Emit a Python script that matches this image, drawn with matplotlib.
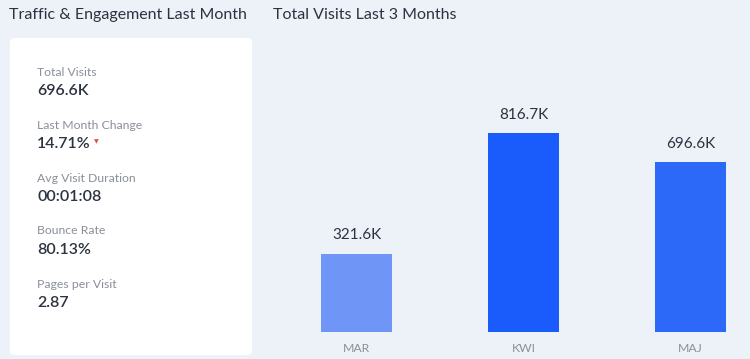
import matplotlib.pyplot as plt
from matplotlib.patches import FancyBboxPatch

# data
months = ["MAR", "KWI", "MAJ"]
visits = [321.6, 816.7, 696.6]  # thousands
bar_colors = ["#6f95f6", "#1a5bfc", "#2d69f9"]

stat_labels = ["Total Visits", "Last Month Change", "Avg Visit Duration", "Bounce Rate", "Pages per Visit"]
stat_values = ["696.6K", "14.71%", "00:01:08", "80.13%", "2.87"]

W, H = 750, 359
bg = "#edf1f8"
plt.rcParams["font.family"] = ["Lato", "DejaVu Sans"]

fig = plt.figure(figsize=(W / 100, H / 100), dpi=100, facecolor=bg)
renderer = fig.canvas.get_renderer()

# left card
card = FancyBboxPatch((10 / W, 1 - 355 / H), 242 / W, 317 / H,
                      boxstyle="round,pad=0,rounding_size=0.008",
                      transform=fig.transFigure, facecolor="white", edgecolor="none")
fig.patches.append(card)

fig.text(9 / W, 1 - 15 / H, "Traffic & Engagement Last Month", fontsize=11.5,
         color="#2b3340", va="center", ha="left")
fig.text(273 / W, 1 - 15 / H, "Total Visits Last 3 Months", fontsize=11.5,
         color="#2b3340", va="center", ha="left")

for i, (lab, val) in enumerate(zip(stat_labels, stat_values)):
    y0 = 72 + 53 * i
    fig.text(37 / W, 1 - y0 / H, lab, fontsize=8.8, color="#8a8f99", va="center")
    t = fig.text(37 / W, 1 - (y0 + 19) / H, val, fontsize=11.5, color="#2b3340",
                 va="center", fontweight="semibold")
    if lab == "Last Month Change":
        end_px = t.get_window_extent(renderer).x1
        fig.text((end_px + 6) / W, 1 - (y0 + 17) / H, "▼", fontsize=4.5, color="#e05050",
                 va="center", ha="center", family="DejaVu Sans")

# bar chart, pixel-placed axes
base_px, top_px = 332, 40
left_px, right_px = 273, 750
step = 167.0
ax = fig.add_axes([left_px / W, (H - base_px) / H, (right_px - left_px) / W, (base_px - top_px) / H])
ax.patch.set_alpha(0)
x = range(len(months))
ax.set_xlim(-0.5, -0.5 + (right_px - left_px) / step)
ax.set_ylim(0, 816.7 * (base_px - top_px) / 199)
bars = ax.bar(x, visits, width=71 / step, color=bar_colors)
for b, v in zip(bars, visits):
    ax.text(b.get_x() + b.get_width() / 2, v + 75, f"{v}K", ha="center", va="center",
            fontsize=11, color="#2b3340")
ax.set_xticks(list(x))
ax.set_xticklabels(months, fontsize=8.8, color="#8a8f99")
ax.tick_params(axis="x", length=0, pad=8)
ax.set_yticks([])
for s in ax.spines.values():
    s.set_visible(False)

fig.savefig("out.png", dpi=100, facecolor=bg)
